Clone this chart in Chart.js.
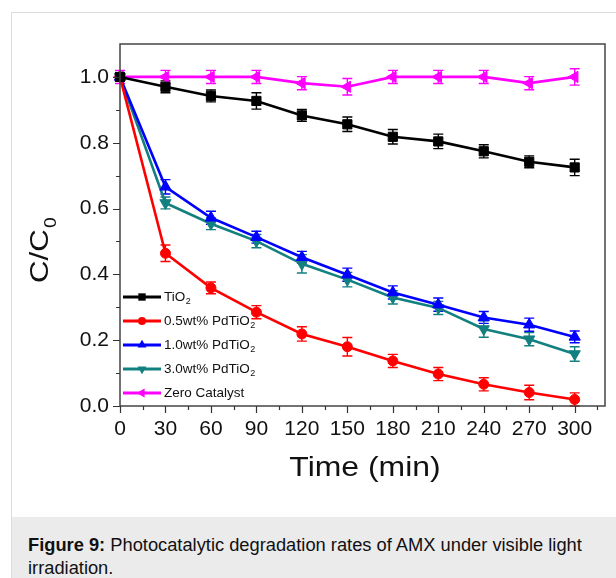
<!DOCTYPE html>
<html>
<head>
<meta charset="utf-8">
<script src="https://cdn.jsdelivr.net/npm/chart.js@4"></script>
<style>
  html, body { margin: 0; padding: 0; background: #fff; width: 616px; height: 578px; overflow: hidden; }
  #panel { position: absolute; left: 11px; top: 12px; width: 640px; height: 600px; border-left: 1px solid #dcdcdc; border-top: 1px solid #dcdcdc; box-sizing: border-box; }
  #chart-wrap { position: absolute; left: 0; top: 0; width: 616px; height: 517px; }
  #caption { position: absolute; left: 12px; top: 517px; width: 604px; height: 61px; background: #ebebeb;
    font-family: "Liberation Sans", Arial, sans-serif; font-size: 18.3px; line-height: 23px; color: #111;
    padding: 16px 0 0 16px; box-sizing: border-box; white-space: nowrap; }
</style>
</head>
<body>
<div id="panel"></div>
<div id="chart-wrap"><canvas id="chart"></canvas></div>
<div id="caption"><b>Figure 9:</b> Photocatalytic degradation rates of AMX under visible light<br>irradiation.</div>
<script>
// time points (min)
const times = [0, 30, 60, 90, 120, 150, 180, 210, 240, 270, 300];

// C/C0 values
const tio2 = [1.0, 0.970, 0.942, 0.927, 0.883, 0.856, 0.818, 0.804, 0.774, 0.742, 0.725];
const pd05 = [1.0, 0.464, 0.359, 0.285, 0.219, 0.180, 0.137, 0.097, 0.066, 0.041, 0.020];
const pd10 = [1.0, 0.666, 0.572, 0.513, 0.452, 0.399, 0.345, 0.308, 0.269, 0.247, 0.210];
const pd30 = [1.0, 0.617, 0.554, 0.501, 0.432, 0.384, 0.330, 0.298, 0.234, 0.203, 0.158];
const zeroCat = [1.0, 1.0, 1.0, 1.0, 0.981, 0.970, 1.0, 1.0, 1.0, 0.981, 1.0];

// error bar half-heights
const tio2Err = [0.012, 0.018, 0.018, 0.025, 0.018, 0.022, 0.022, 0.022, 0.020, 0.018, 0.025];
const pd05Err = [0.012, 0.025, 0.018, 0.020, 0.022, 0.028, 0.020, 0.020, 0.020, 0.022, 0.020];
const pd10Err = [0.012, 0.022, 0.020, 0.018, 0.018, 0.020, 0.020, 0.020, 0.018, 0.020, 0.018];
const pd30Err = [0.012, 0.018, 0.018, 0.020, 0.028, 0.022, 0.020, 0.020, 0.025, 0.020, 0.022];
const zeroErr = [0.020, 0.020, 0.020, 0.020, 0.020, 0.025, 0.020, 0.020, 0.020, 0.020, 0.025];

// tick labels
const xTickLabels = [0, 30, 60, 90, 120, 150, 180, 210, 240, 270, 300];
const yTickLabels = [0.0, 0.2, 0.4, 0.6, 0.8, 1.0];

const FONT = '"Liberation Sans", Arial, sans-serif';

function pts(vals) {
    return times.map((t, i) => ({ x: t, y: vals[i] }));
}

function series(label, sub, vals, errs, color, style, rot, r) {
    return {
        label: label,
        sub: sub,
        errs: errs,
        data: pts(vals),
        showLine: true,
        borderColor: color,
        backgroundColor: color,
        borderWidth: 2.6,
        pointStyle: style,
        rotation: rot,
        pointRadius: r,
        pointBorderWidth: 1,
        pointBackgroundColor: color,
        pointBorderColor: color,
        clip: false
    };
}

const datasets = [
    series('TiO', '2', tio2, tio2Err, '#000000', 'rect', 0, 6.5),
    series('0.5wt% PdTiO', '2', pd05, pd05Err, '#ff0000', 'circle', 0, 5),
    series('1.0wt% PdTiO', '2', pd10, pd10Err, '#0000ff', 'triangle', 0, 6.5),
    series('3.0wt% PdTiO', '2', pd30, pd30Err, '#138080', 'triangle', 180, 6.5),
    series('Zero Catalyst', '', zeroCat, zeroErr, '#ff00ff', 'triangle', -90, 6.5)
];

// error bars under the lines
const errorBars = {
    id: 'errorBars',
    beforeDatasetsDraw(chart) {
        const ctx = chart.ctx;
        const xs = chart.scales.x, ys = chart.scales.y;
        ctx.save();
        chart.data.datasets.forEach(ds => {
            ctx.strokeStyle = ds.borderColor;
            ctx.lineWidth = 1.4;
            ds.data.forEach((p, i) => {
                const px = xs.getPixelForValue(p.x);
                const top = ys.getPixelForValue(p.y + ds.errs[i]);
                const bot = ys.getPixelForValue(p.y - ds.errs[i]);
                ctx.beginPath();
                ctx.moveTo(px, top); ctx.lineTo(px, bot);
                ctx.moveTo(px - 5, top); ctx.lineTo(px + 5, top);
                ctx.moveTo(px - 5, bot); ctx.lineTo(px + 5, bot);
                ctx.stroke();
            });
        });
        ctx.restore();
    }
};

// frame, ticks, axis titles and legend
const decor = {
    id: 'decor',
    afterDraw(chart) {
        const ctx = chart.ctx;
        const a = chart.chartArea;
        const xs = chart.scales.x, ys = chart.scales.y;
        ctx.save();
        ctx.strokeStyle = '#444';
        ctx.lineWidth = 1.5;
        ctx.strokeRect(a.left, a.top, a.right - a.left, a.bottom - a.top);

        ctx.lineWidth = 1.2;
        ctx.strokeStyle = '#333';
        ctx.beginPath();
        for (let v = 0; v <= 315; v += 15) {
            const px = Math.round(xs.getPixelForValue(v)) + 0.5;
            const len = v % 30 === 0 ? 7 : 4;
            ctx.moveTo(px, a.bottom); ctx.lineTo(px, a.bottom + len);
        }
        for (let k = 0; k <= 10; k++) {
            const py = Math.round(ys.getPixelForValue(k / 10)) + 0.5;
            const len = k % 2 === 0 ? 7 : 4;
            ctx.moveTo(a.left, py); ctx.lineTo(a.left - len, py);
        }
        ctx.stroke();

        // x title
        ctx.fillStyle = '#111';
        ctx.save();
        ctx.translate(365, 476);
        ctx.scale(1.14, 1);
        ctx.font = '28px ' + FONT;
        ctx.textAlign = 'center';
        ctx.textBaseline = 'alphabetic';
        ctx.fillText('Time (min)', 0, 0);
        ctx.restore();

        // y title C/C0
        ctx.save();
        ctx.translate(48, 283);
        ctx.rotate(-Math.PI / 2);
        ctx.scale(1.2, 1);
        ctx.font = '26px ' + FONT;
        ctx.textAlign = 'left';
        ctx.textBaseline = 'alphabetic';
        ctx.fillText('C/C', 0, 0);
        const w = ctx.measureText('C/C').width;
        ctx.font = '16px ' + FONT;
        ctx.fillText('0', w + 1, 8);
        ctx.restore();

        // legend
        const rowY = [297, 321, 345, 369, 393];
        chart.data.datasets.forEach((ds, i) => {
            const y = rowY[i];
            ctx.strokeStyle = ds.borderColor;
            ctx.fillStyle = ds.borderColor;
            ctx.lineWidth = 2.8;
            ctx.beginPath();
            ctx.moveTo(123, y); ctx.lineTo(161, y);
            ctx.stroke();
            Chart.helpers.drawPoint(ctx, {
                pointStyle: ds.pointStyle, rotation: ds.rotation,
                radius: ds.pointRadius * 0.8, borderWidth: 0
            }, 142, y);
            ctx.fillStyle = '#111';
            ctx.font = '13.5px ' + FONT;
            ctx.textBaseline = 'middle';
            ctx.textAlign = 'left';
            ctx.fillText(ds.label, 164, y);
            if (ds.sub) {
                const tw = ctx.measureText(ds.label).width;
                ctx.font = '9px ' + FONT;
                ctx.fillText(ds.sub, 164 + tw + 0.5, y + 5);
            }
        });
        ctx.restore();
    }
};

new Chart(document.getElementById('chart'), {
    type: 'scatter',
    data: { datasets: datasets },
    options: {
        responsive: true,
        maintainAspectRatio: false,
        animation: false,
        layout: { padding: { top: 44, right: 4, left: 0, bottom: 0 }, autoPadding: false },
        plugins: { legend: { display: false }, tooltip: { enabled: false } },
        scales: {
            x: {
                type: 'linear', min: 0, max: 320,
                afterFit: s => { s.height = 111; },
                grid: { display: true, drawOnChartArea: false, drawTicks: false },
                border: { display: false },
                ticks: {
                    stepSize: 15, padding: 11, color: '#111', maxRotation: 0, autoSkip: false,
                    font: { family: FONT, size: 21 },
                    callback: v => xTickLabels.includes(v) ? String(v) : ''
                }
            },
            y: {
                type: 'linear', min: 0, max: 1.1,
                afterFit: s => { s.width = 120; },
                grid: { display: true, drawOnChartArea: false, drawTicks: false },
                border: { display: false },
                ticks: {
                    stepSize: 0.1, padding: 11, color: '#111', autoSkip: false,
                    font: { family: FONT, size: 21 },
                    callback: v => {
                        const r = Math.round(v * 10) / 10;
                        return yTickLabels.some(t => Math.abs(t - r) < 1e-9) ? r.toFixed(1) : '';
                    }
                }
            }
        }
    },
    plugins: [errorBars, decor]
});
</script>
</body>
</html>
